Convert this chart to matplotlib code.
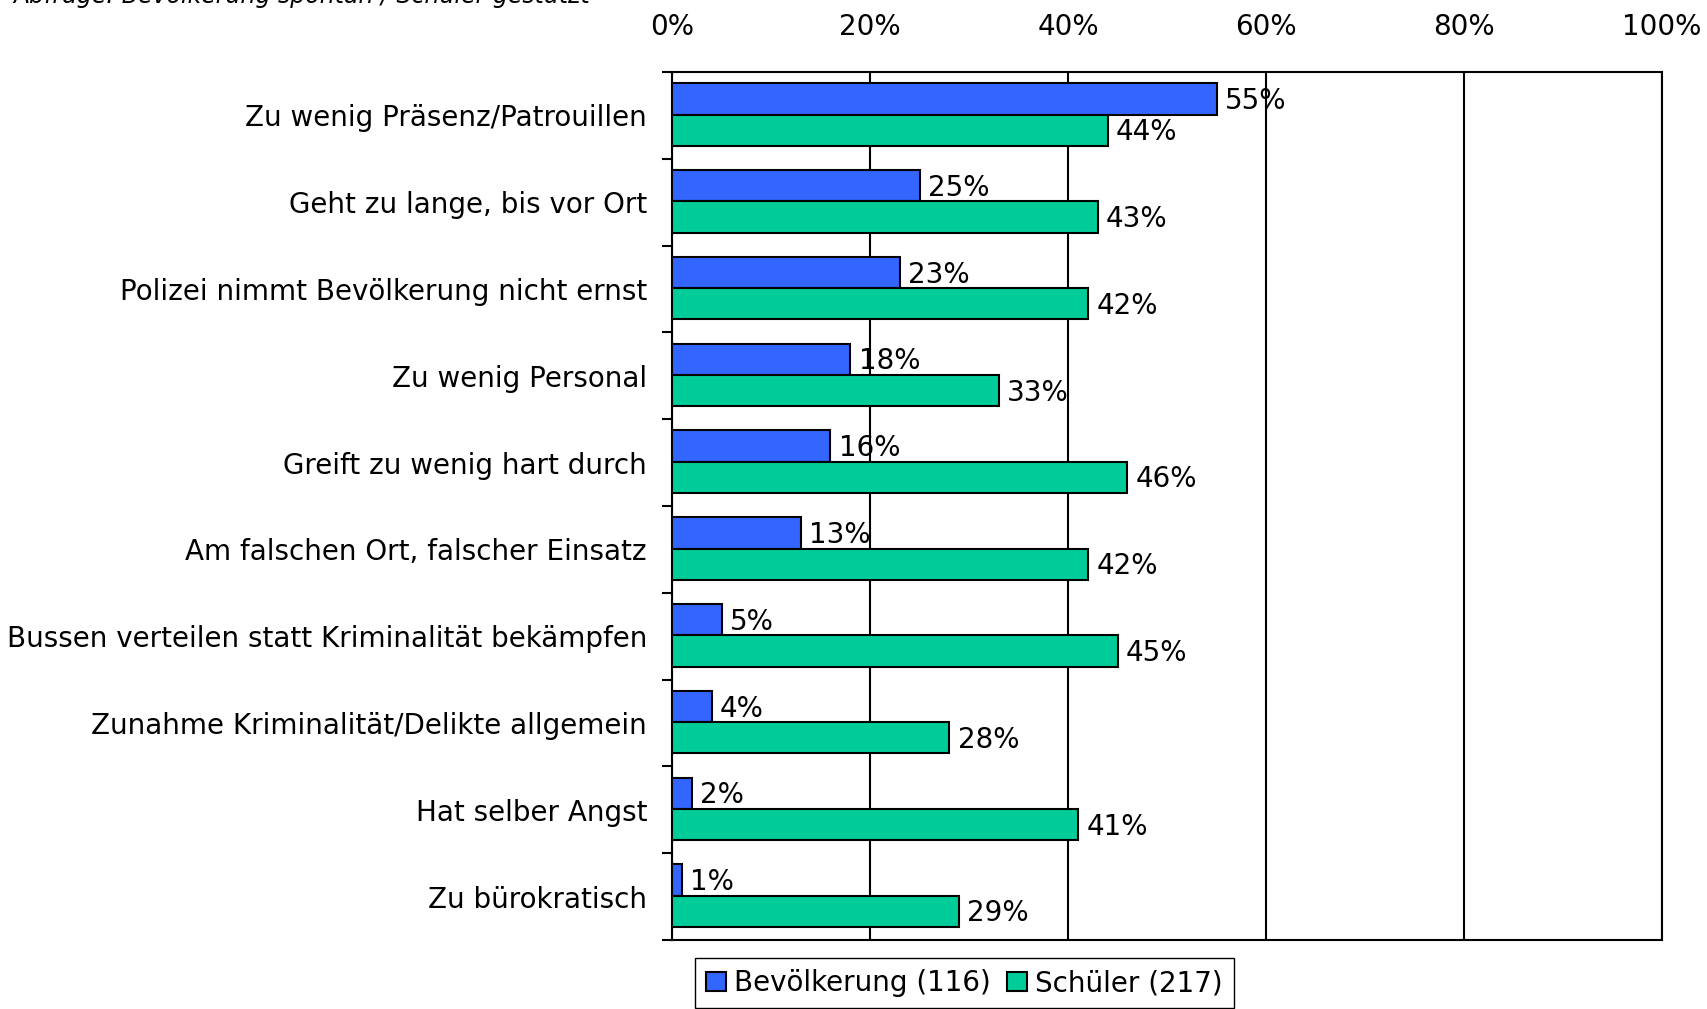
import matplotlib.pyplot as plt
import numpy as np

categories = [
    "Zu wenig Präsenz/Patrouillen",
    "Geht zu lange, bis vor Ort",
    "Polizei nimmt Bevölkerung nicht ernst",
    "Zu wenig Personal",
    "Greift zu wenig hart durch",
    "Am falschen Ort, falscher Einsatz",
    "Bussen verteilen statt Kriminalität bekämpfen",
    "Zunahme Kriminalität/Delikte allgemein",
    "Hat selber Angst",
    "Zu bürokratisch",
]
bevoelkerung = [55, 25, 23, 18, 16, 13, 5, 4, 2, 1]
schueler = [44, 43, 42, 33, 46, 42, 45, 28, 41, 29]
series_labels = ["Bevölkerung (116)", "Schüler (217)"]
xticks = [0, 20, 40, 60, 80, 100]

plt.rcParams['font.family'] = ['DejaVu Sans']
FS = 20

fig = plt.figure(figsize=(17.07, 10.09), dpi=100)
ax = fig.add_axes([672 / 1707, 1 - 940 / 1009, 990 / 1707, 868 / 1009])

y = np.arange(len(categories))
h = 0.36
b1 = ax.barh(y - 0.19, bevoelkerung, height=h, color='#3366FF', edgecolor='black',
             linewidth=1.5, label=series_labels[0], zorder=3)
b2 = ax.barh(y + 0.17, schueler, height=h, color='#00CC99', edgecolor='black',
             linewidth=1.5, label=series_labels[1], zorder=3)

# value labels next to each bar
for bars, vals in ((b1, bevoelkerung), (b2, schueler)):
    for bar, v in zip(bars, vals):
        ax.annotate(f"{v}%", (bar.get_width(), bar.get_y() + bar.get_height() / 2),
                    xytext=(6, -1.5), textcoords='offset points', va='center', ha='left',
                    fontsize=FS, zorder=4)

ax.set_xlim(0, 100)
ax.set_ylim(len(categories) - 0.5, -0.5)
ax.set_xticks(xticks)
ax.set_xticklabels([f"{t}%" for t in xticks], fontsize=FS)
ax.xaxis.tick_top()
ax.tick_params(axis='x', length=0, pad=22)
ax.grid(axis='x', color='black', linewidth=1.5, zorder=0)

ax.set_yticks(y)
ax.set_yticklabels(categories, fontsize=FS)
ax.set_yticks(np.arange(len(categories) + 1) - 0.5, minor=True)
ax.tick_params(axis='y', which='major', length=0, pad=18)
ax.tick_params(axis='y', which='minor', length=7, width=1.5, direction='out')

for s in ax.spines.values():
    s.set_linewidth(1.5)

fig.legend(handles=[b1, b2], loc='upper left', bbox_to_anchor=(695 / 1707, 1 - 958 / 1009),
           ncol=2, fontsize=FS, frameon=True, fancybox=False, edgecolor='black',
           framealpha=1, handlelength=0.7, handleheight=0.7, handletextpad=0.3,
           columnspacing=0.6, borderpad=0.4, borderaxespad=0)

fig.text(13 / 1707, 1 - 3 / 1009, "Abfrage: Bevölkerung spontan / Schüler gestützt",
         fontsize=17, style='italic', va='baseline', ha='left')

fig.savefig('out.png', dpi=100)
